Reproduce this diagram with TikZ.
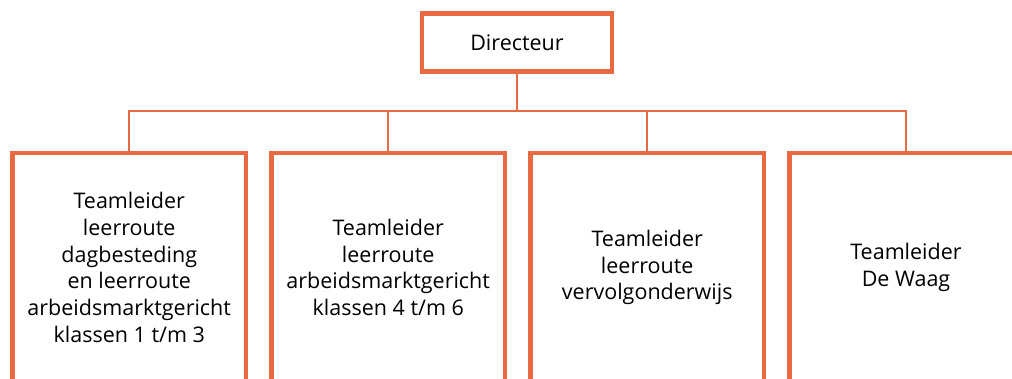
\documentclass[tikz,border=0pt]{standalone}
\usepackage{fontspec}
\setmainfont{Open Sans}
\definecolor{org}{HTML}{E86A43}
\begin{document}
\begin{tikzpicture}[x=1pt,y=-1pt,
  box/.style={draw=org,line width=4.5pt,minimum width=233.5pt,minimum height=229pt,inner sep=0pt,align=center,font=\fontsize{21.5}{26.7}\selectfont},
  link/.style={draw=org,line width=2pt}]
\useasboundingbox (0,0) rectangle (1012,379);
\clip (0,0) rectangle (1012,379);
\node[box, minimum width=190pt, minimum height=58pt] (dir) at (517,42.5) {Directeur};
\node[box] (t1) at (129.25,267.5) {Teamleider\\leerroute\\dagbesteding\\en leerroute\\arbeidsmarktgericht\\klassen 1 t/m 3};
\node[box] (t2) at (388.25,267.5) {Teamleider\\leerroute\\arbeidsmarktgericht\\klassen 4 t/m 6};
\node[box] (t3) at (647.25,267.5) {Teamleider\\leerroute\\vervolgonderwijs};
\node[box] (t4) at (906,267.5) {Teamleider\\De Waag};
\coordinate (bus) at (517,111.5);
\draw[link] (dir.south) -- (bus);
\draw[link] (t1.north) -- (t1.north |- bus) -- (t4.north |- bus) -- (t4.north);
\draw[link] (t2.north) -- (t2.north |- bus);
\draw[link] (t3.north) -- (t3.north |- bus);
\end{tikzpicture}
\end{document}
